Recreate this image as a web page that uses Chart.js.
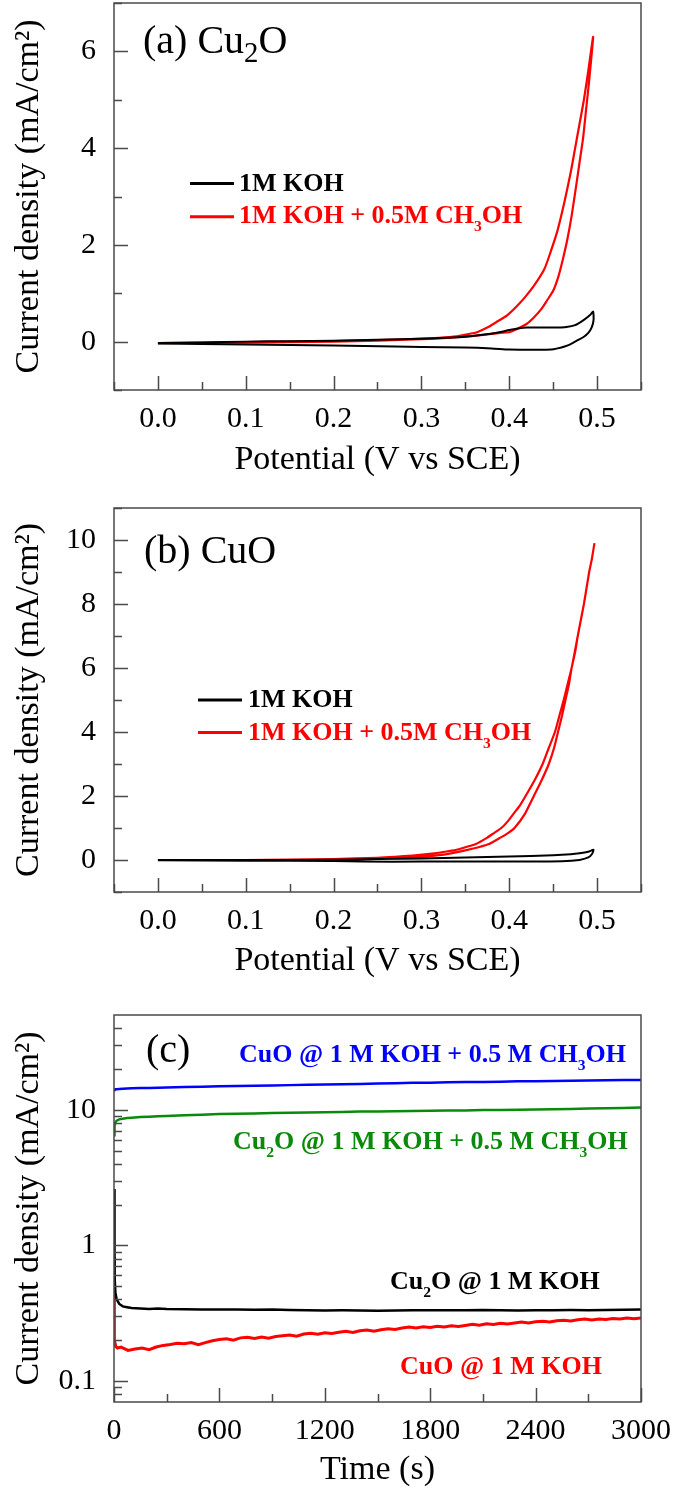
<!DOCTYPE html>
<html><head><meta charset="utf-8">
<script src="https://cdn.jsdelivr.net/npm/chart.js@4.4.0/dist/chart.umd.min.js"></script>
<style>
html,body{margin:0;padding:0;background:#fff;width:675px;height:1493px;overflow:hidden}
canvas{position:absolute;left:0}
</style></head><body>
<canvas id="ca" width="675" height="480" style="top:0px"></canvas>
<canvas id="cb" width="675" height="505" style="top:480px"></canvas>
<canvas id="cc" width="675" height="508" style="top:985px"></canvas>
<script>
// ---------- Panel (a) Cu2O cyclic voltammograms ----------
const aKohV = [0.000,0.050,0.100,0.150,0.200,0.250,0.300,0.330,0.350,0.370,0.390,0.400,0.410,0.420,0.440,0.455,0.465,0.475,0.485,0.492,0.4955,0.496,0.494,0.490,0.485,0.478,0.470,0.463,0.455,0.448,0.430,0.400,0.380,0.350,0.300,0.270,0.200,0.150,0.100,0.050,0.000];
const aKohJ = [-0.03,-0.02,0.00,0.01,0.02,0.04,0.06,0.08,0.10,0.14,0.20,0.24,0.27,0.29,0.29,0.29,0.30,0.34,0.45,0.55,0.62,0.45,0.30,0.18,0.10,0.03,-0.05,-0.10,-0.14,-0.165,-0.17,-0.165,-0.14,-0.12,-0.11,-0.10,-0.08,-0.07,-0.06,-0.05,-0.04];
const aMeohV = [0.000,0.050,0.100,0.150,0.200,0.250,0.300,0.320,0.340,0.360,0.380,0.390,0.401,0.410,0.420,0.428,0.436,0.443,0.450,0.456,0.461,0.466,0.471,0.476,0.480,0.484,0.4875,0.491,0.4955,
                0.490,0.485,0.480,0.475,0.470,0.463,0.455,0.447,0.440,0.428,0.418,0.408,0.398,0.385,0.375,0.364,0.352,0.340,0.320,0.300,0.250,0.200,0.100,0.050,0.000];
const aMeohJ = [-0.03,-0.025,-0.02,-0.01,0.00,0.02,0.05,0.065,0.09,0.12,0.16,0.18,0.20,0.27,0.37,0.50,0.66,0.85,1.05,1.35,1.70,2.10,2.60,3.20,3.70,4.20,4.80,5.40,6.30,
                5.60,5.00,4.50,4.00,3.50,2.90,2.30,1.85,1.50,1.15,0.92,0.72,0.55,0.40,0.29,0.20,0.15,0.11,0.08,0.06,0.03,0.01,-0.01,-0.02,-0.03];

// ---------- Panel (b) CuO cyclic voltammograms ----------
const bKohV = [0.000,0.100,0.200,0.250,0.300,0.350,0.400,0.450,0.470,0.480,0.490,0.496,0.494,0.490,0.480,0.460,0.400,0.300,0.233,0.200,0.100,0.000];
const bKohJ = [0.00,0.00,0.01,0.03,0.05,0.08,0.11,0.15,0.18,0.21,0.26,0.32,0.18,0.08,0.00,-0.04,-0.05,-0.05,-0.05,-0.03,-0.02,-0.01];
const bMeohV = [0.000,0.100,0.200,0.250,0.280,0.300,0.320,0.332,0.350,0.365,0.377,0.390,0.399,0.406,0.418,0.428,0.437,0.445,0.451,0.4555,0.460,0.464,0.468,0.471,0.475,0.478,0.4815,0.485,0.488,0.491,0.494,0.497,
                0.494,0.491,0.485,0.478,0.471,0.4665,0.462,0.457,0.452,0.445,0.438,0.429,0.4186,0.412,0.405,0.398,0.391,0.383,0.375,0.362,0.350,0.340,0.325,0.312,0.290,0.270,0.250,0.200,0.150,0.100,0.000];
const bMeohJ = [0.00,0.00,0.02,0.05,0.08,0.10,0.15,0.20,0.30,0.40,0.50,0.70,0.85,1.00,1.45,2.00,2.50,3.00,3.50,4.00,4.50,5.00,5.50,6.00,6.50,7.00,7.50,8.00,8.50,9.00,9.40,9.90,
                9.40,9.00,8.00,7.00,6.00,5.50,5.00,4.50,4.00,3.50,3.00,2.50,2.00,1.70,1.45,1.20,1.00,0.85,0.70,0.50,0.40,0.32,0.25,0.20,0.14,0.10,0.07,0.03,0.01,0.00,0.00];

// ---------- Panel (c) chronoamperometry ----------
const cTime = [0,3,8,15,30,50,75,100,150,200,250,300,400,500,600,700,800,900,1000,1100,1200,1300,1400,1500,1600,1700,1800,1900,2000,2100,2200,2300,2400,2500,2600,2700,2800,2900,3000];
const cCuOMeoh = [14.0,14.1,14.15,14.2,14.25,14.3,14.35,14.4,14.45,14.5,14.55,14.6,14.7,14.8,14.9,15.0,15.05,15.1,15.2,15.3,15.35,15.45,15.5,15.6,15.7,15.8,15.85,15.95,16.0,16.05,16.1,16.2,16.25,16.3,16.4,16.45,16.5,16.55,16.6];
const cCu2OMeoh = [6.5,7.6,8.1,8.3,8.5,8.6,8.7,8.75,8.85,8.9,8.95,9.0,9.1,9.2,9.3,9.35,9.4,9.45,9.5,9.55,9.6,9.65,9.7,9.72,9.75,9.8,9.85,9.88,9.9,9.95,9.98,10.0,10.05,10.1,10.15,10.2,10.25,10.3,10.4];
const cCu2OKoh = [2.6,0.6,0.45,0.40,0.37,0.355,0.35,0.345,0.342,0.34,0.342,0.339,0.338,0.337,0.336,0.337,0.335,0.336,0.334,0.332,0.331,0.332,0.331,0.330,0.331,0.332,0.333,0.332,0.333,0.334,0.332,0.331,0.332,0.333,0.334,0.333,0.334,0.335,0.336];
const cTimeRed = [0,2,10,20,40,80,120,160,200,240,280,320,360,400,440,480,520,560,600,640,680,720,760,800,840,880,920,960,1000,1040,1080,1120,1160,1200,1240,1280,1320,1360,1400,1440,1480,1520,1560,1600,1640,1680,1720,1760,1800,1840,1880,1920,1960,2000,2040,2080,2120,2160,2200,2240,2280,2320,2360,2400,2440,2480,2520,2560,2600,2640,2680,2720,2760,2800,2840,2880,2920,2960,3000];
const cCuOKoh = [0.82,0.20,0.18,0.175,0.178,0.168,0.172,0.175,0.170,0.178,0.183,0.186,0.190,0.188,0.192,0.185,0.192,0.198,0.202,0.205,0.200,0.208,0.210,0.206,0.211,0.207,0.213,0.216,0.218,0.214,0.222,0.225,0.221,0.227,0.224,0.229,0.233,0.228,0.235,0.238,0.233,0.239,0.243,0.240,0.246,0.250,0.246,0.251,0.248,0.253,0.250,0.255,0.252,0.257,0.262,0.258,0.264,0.261,0.266,0.263,0.268,0.272,0.268,0.273,0.276,0.272,0.278,0.281,0.277,0.283,0.286,0.282,0.287,0.284,0.289,0.286,0.291,0.288,0.292];

// ---------- Tick values ----------
const cvXTicks = [0.0,0.1,0.2,0.3,0.4,0.5];
const cvXMinor = [-0.05,0.05,0.15,0.25,0.35,0.45,0.55];
const aYTicks = [0,2,4,6];
const aYMinor = [-1,1,3,5,7];
const bYTicks = [0,2,4,6,8,10];
const bYMinor = [-1,1,3,5,7,9,11];
const cXTicks = [0,600,1200,1800,2400,3000];
const cXMinor = [300,900,1500,2100,2700];
const cYTicks = [0.1,1,10];
const cYMinor = [0.08,0.09,0.2,0.3,0.4,0.5,0.6,0.7,0.8,0.9,2,3,4,5,6,7,8,9,20,30,40];

const SERIF = '"Liberation Serif","Times New Roman",serif';

function pts(xs, ys){ return xs.map((x,i)=>({x:x, y:ys[i]})); }

function parseRich(s){
  const out=[]; const re=/_(\d)/g; let last=0, m;
  while((m=re.exec(s))){ if(m.index>last) out.push([s.slice(last,m.index),false]); out.push([m[1],true]); last=re.lastIndex; }
  if(last<s.length) out.push([s.slice(last),false]);
  return out;
}

function drawRich(ctx, t){
  ctx.save();
  ctx.fillStyle = t.color; ctx.textBaseline='alphabetic'; ctx.textAlign='left';
  let cx = t.x;
  const w = t.bold ? 'bold ' : '';
  for (const [s, sub] of parseRich(t.text)) {
    const sz = sub ? t.size*(t.subScale||0.6) : t.size;
    ctx.font = w + sz + 'px ' + SERIF;
    ctx.fillText(s, cx, sub ? t.y + t.size*(t.subShift||0.3) : t.y);
    cx += ctx.measureText(s).width;
  }
  ctx.restore();
}

const framePlugin = {
  id: 'frame',
  afterDatasetsDraw(chart, args, o){
    const {ctx, chartArea:{left,right,top,bottom}, scales:{x,y}} = chart;
    ctx.save();
    ctx.strokeStyle = '#4a4a4a'; ctx.lineWidth = 1.5;
    ctx.beginPath();
    const major = 14, minor = 8;
    x.ticks.forEach(t=>{ const p = Math.round(x.getPixelForValue(t.value))+0.5; ctx.moveTo(p,bottom); ctx.lineTo(p,bottom-major); });
    o.xMinor.forEach(v=>{ const p = Math.round(x.getPixelForValue(v))+0.5; ctx.moveTo(p,bottom); ctx.lineTo(p,bottom-minor); });
    y.ticks.forEach(t=>{ const p = Math.round(y.getPixelForValue(t.value))+0.5; ctx.moveTo(left,p); ctx.lineTo(left+major,p); });
    o.yMinor.forEach(v=>{ const p = Math.round(y.getPixelForValue(v))+0.5; ctx.moveTo(left,p); ctx.lineTo(left+minor,p); });
    ctx.stroke();
    ctx.strokeRect(left, top, right-left, bottom-top);
    ctx.restore();
    (o.keys||[]).forEach(k=>{
      ctx.save(); ctx.strokeStyle=k.color; ctx.lineWidth=3;
      ctx.beginPath(); ctx.moveTo(k.x1,k.y); ctx.lineTo(k.x2,k.y); ctx.stroke(); ctx.restore();
    });
    (o.texts||[]).forEach(t=>drawRich(ctx,t));
  }
};

function makeChart(id, c){
  return new Chart(document.getElementById(id), {
    type: 'scatter',
    data: { datasets: c.datasets.map(d=>({
      data: d.data, borderColor: d.color, backgroundColor: d.color, borderWidth: d.w,
      showLine: true, pointRadius: 0, fill: false, tension: d.t || 0
    })) },
    options: {
      responsive: false, animation: false, events: [],
      layout: { padding: { top: c.top, right: 34, left: 0, bottom: 0 } },
      plugins: { legend: {display:false}, tooltip: {enabled:false}, frame: c.frame },
      scales: {
        x: {
          type: 'linear', min: c.xMin, max: c.xMax,
          afterBuildTicks: s => { s.ticks = c.xTicks.map(v=>({value:v})); },
          afterFit: s => { s.height = c.xH; s.paddingLeft = 0; s.paddingRight = 0; },
          grid: { display:false, drawTicks:false }, border: { display:false },
          ticks: { font:{family:SERIF,size:30}, color:'#000', padding:11, maxRotation:0, autoSkip:false, callback: c.xFmt },
          title: { display:true, text:c.xTitle, font:{family:SERIF,size:34}, color:'#000', padding:{top:0,bottom:c.xTitlePad} }
        },
        y: {
          type: c.yType, min: c.yMin, max: c.yMax,
          afterBuildTicks: s => { s.ticks = c.yTicks.map(v=>({value:v})); },
          afterFit: s => { s.width = 114; s.paddingTop = 0; s.paddingBottom = 0; },
          grid: { display:false, drawTicks:false }, border: { display:false },
          ticks: { font:{family:SERIF,size:30}, color:'#000', padding:18, autoSkip:false, callback: v => String(v) },
          title: { display:true, text:'Current density (mA/cm²)', font:{family:SERIF,size:34}, color:'#000', padding:{top:8.6,bottom:0} }
        }
      }
    },
    plugins: [framePlugin]
  });
}

const cvFmt = v => v.toFixed(1);

makeChart('ca', {
  top: 3, xH: 90, xTitlePad: 0,
  xMin: -0.05, xMax: 0.55, xTicks: cvXTicks, xFmt: cvFmt, xTitle: 'Potential (V vs SCE)',
  yType: 'linear', yMin: -1, yMax: 7, yTicks: aYTicks,
  datasets: [
    {data: pts(aKohV, aKohJ), color:'#000000', w:2, t:0.2},
    {data: pts(aMeohV, aMeohJ), color:'#ff0000', w:2.2, t:0.2}
  ],
  frame: {
    xMinor: cvXMinor, yMinor: aYMinor,
    keys: [{x1:190,x2:234,y:183.5,color:'#000000'},{x1:190,x2:234,y:216.7,color:'#ff0000'}],
    texts: [
      {text:'(a) Cu_2O', x:143, y:53, size:40, bold:false, color:'#000', subScale:0.72, subShift:0.22},
      {text:'1M KOH', x:239, y:191, size:26, bold:true, color:'#000'},
      {text:'1M KOH + 0.5M CH_3OH', x:239, y:223, size:26, bold:true, color:'#ff0000'}
    ]
  }
});

makeChart('cb', {
  top: 28, xH: 93, xTitlePad: 3.6,
  xMin: -0.05, xMax: 0.55, xTicks: cvXTicks, xFmt: cvFmt, xTitle: 'Potential (V vs SCE)',
  yType: 'linear', yMin: -1, yMax: 11, yTicks: bYTicks,
  datasets: [
    {data: pts(bKohV, bKohJ), color:'#000000', w:2, t:0.2},
    {data: pts(bMeohV, bMeohJ), color:'#ff0000', w:2.2, t:0.2}
  ],
  frame: {
    xMinor: cvXMinor, yMinor: bYMinor,
    keys: [{x1:198,x2:242,y:220,color:'#000000'},{x1:198,x2:242,y:252.5,color:'#ff0000'}],
    texts: [
      {text:'(b) CuO', x:144, y:83, size:40, bold:false, color:'#000'},
      {text:'1M KOH', x:248, y:227, size:26, bold:true, color:'#000'},
      {text:'1M KOH + 0.5M CH_3OH', x:248, y:260, size:26, bold:true, color:'#ff0000'}
    ]
  }
});

makeChart('cc', {
  top: 30, xH: 91, xTitlePad: 2.6,
  xMin: 0, xMax: 3000, xTicks: cXTicks, xFmt: v => String(v), xTitle: 'Time (s)',
  yType: 'logarithmic', yMin: 0.07, yMax: 50, yTicks: cYTicks,
  datasets: [
    {data: pts(cTime, cCuOMeoh), color:'#0000ff', w:2.5},
    {data: pts(cTime, cCu2OMeoh), color:'#0a8a0a', w:2.5},
    {data: pts(cTime, cCu2OKoh), color:'#000000', w:2.5},
    {data: pts(cTimeRed, cCuOKoh), color:'#ff0000', w:3}
  ],
  frame: {
    xMinor: cXMinor, yMinor: cYMinor,
    texts: [
      {text:'(c)', x:146, y:77, size:40, bold:false, color:'#000'},
      {text:'CuO @ 1 M KOH + 0.5 M CH_3OH', x:239, y:77, size:26, bold:true, color:'#0000ff'},
      {text:'Cu_2O @ 1 M KOH + 0.5 M CH_3OH', x:233, y:164, size:26, bold:true, color:'#0a8a0a'},
      {text:'Cu_2O @ 1 M KOH', x:390, y:304, size:26, bold:true, color:'#000'},
      {text:'CuO @ 1 M KOH', x:400, y:389, size:26, bold:true, color:'#ff0000'}
    ]
  }
});
</script>
</body></html>
